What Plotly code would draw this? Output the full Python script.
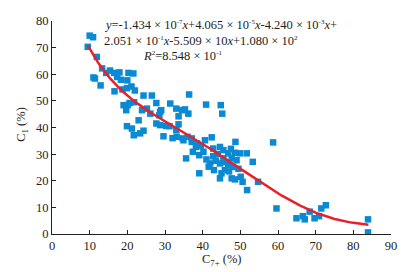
import numpy as np
import plotly.graph_objects as go

# scatter data: C7+ (%) vs C1 (%)
c7_plus = [10.0, 10.9, 9.5, 11.9, 11.0, 11.4, 12.9, 13.3, 14.4, 15.4, 16.5, 17.9, 20.3, 21.6,
           17.3, 18.3, 20.0, 21.1, 19.9, 22.0, 16.6, 18.7, 19.0, 20.1, 19.7, 20.6, 21.8, 24.3,
           26.5, 23.9, 25.2, 26.1, 27.7, 28.7, 29.0, 28.5, 27.7, 28.7, 30.3, 31.2, 31.4, 33.0,
           34.5, 35.3, 36.2, 33.6, 33.6, 33.0, 36.4, 40.9, 44.8, 45.2, 23.0, 19.9, 21.2, 24.3,
           23.4, 21.7, 29.6, 33.1, 34.7, 34.9, 37.1, 37.1, 38.2, 37.4, 35.6, 39.1, 40.2, 40.6,
           42.4, 42.8, 44.6, 48.7, 42.8, 42.0, 41.6, 44.6, 45.5, 46.8, 48.6, 49.9, 51.7, 47.7,
           49.0, 46.8, 48.1, 45.9, 45.0, 44.6, 47.7, 48.6, 50.1, 50.6, 39.1, 53.3, 51.8, 54.7,
           58.7, 59.6, 64.9, 66.6, 67.1, 68.4, 69.7, 70.9, 71.5, 72.7, 83.9, 83.9, 32.0, 36.0,
           43.5, 44.0, 46.0, 47.0, 49.5, 43.0, 45.5, 47.5, 41.0, 38.5, 39.5]
c1 = [74.5, 73.9, 70.3, 66.5, 58.8, 58.4, 55.8, 62.2, 60.5, 61.4, 60.5, 60.7, 60.5, 60.3,
      59.0, 57.9, 57.7, 55.4, 54.8, 53.9, 53.6, 54.3, 48.4, 48.4, 46.5, 49.2, 49.5, 52.0,
      52.0, 46.5, 47.1, 45.2, 49.2, 45.9, 46.5, 44.6, 41.5, 40.9, 40.6, 40.5, 49.0, 47.1,
      46.5, 46.8, 45.2, 44.2, 41.2, 39.0, 52.4, 48.6, 48.4, 45.2, 42.7, 40.5, 39.6, 38.8,
      37.8, 37.1, 36.7, 36.5, 35.9, 35.2, 34.6, 35.9, 32.7, 30.9, 28.4, 29.6, 30.9, 35.2,
      36.3, 32.1, 32.7, 34.6, 29.2, 26.5, 25.3, 26.5, 28.4, 30.3, 30.5, 30.3, 30.3, 28.4,
      27.7, 25.9, 25.2, 24.0, 22.8, 20.9, 20.9, 20.5, 21.5, 19.6, 22.8, 27.1, 16.5, 19.6,
      34.4, 9.6, 5.9, 6.7, 5.5, 8.4, 5.9, 6.7, 9.6, 10.8, 5.5, 0.6, 36.0, 36.5,
      27.5, 30.0, 27.0, 23.5, 24.5, 24.0, 31.5, 32.0, 28.0, 34.0, 33.0]

# fitted polynomial coefficients (highest power first), as printed on the chart
fit_coeffs = [-1.434e-7, 4.065e-5, -4.240e-3, 2.051e-1, -5.509, 1.080e2]
fit_range = [9.5, 84.0]

x_ticks = [0, 10, 20, 30, 40, 50, 60, 70, 80, 90]
y_ticks = [0, 10, 20, 30, 40, 50, 60, 70, 80]

fx = np.linspace(fit_range[0], fit_range[1], 200)
fy = np.polyval(fit_coeffs, fx)

SERIF = "Liberation Serif, Times New Roman, serif"
INK = "#231f20"
L, R, T, B = 51.5, 23.5, 20.7, 38
PW, PH = 415 - L - R, 272 - T - B

fig = go.Figure()
fig.add_trace(go.Scatter(x=c7_plus, y=c1, mode="markers",
                         marker=dict(symbol="square", size=6.5, color="#0a8ad2",
                                     line=dict(width=0)),
                         showlegend=False, hoverinfo="skip"))
fig.add_trace(go.Scatter(x=fx, y=fy, mode="lines",
                         line=dict(color="#e8202c", width=2.5),
                         showlegend=False, hoverinfo="skip"))

fig.update_layout(
    width=415, height=272,
    margin=dict(l=L, r=R, t=T, b=B, autoexpand=False),
    paper_bgcolor="white", plot_bgcolor="white",
    font=dict(family=SERIF, size=12, color=INK),
    xaxis=dict(range=[0, 90], tickvals=x_ticks, showgrid=False, zeroline=False,
               showline=True, linecolor=INK, linewidth=1, automargin=False,
               ticks="inside", ticklen=4, tickcolor=INK,
               tickfont=dict(family=SERIF, size=12.5, color=INK)),
    yaxis=dict(range=[0, 80], tickvals=y_ticks, showgrid=False, zeroline=False,
               showline=True, linecolor=INK, linewidth=1, automargin=False,
               ticks="inside", ticklen=4, tickcolor=INK,
               tickfont=dict(family=SERIF, size=12.5, color=INK)),
)


def xpix(px):
    return (px - L) / PW


def ypix(py):
    return 1 - (py - T) / PH


def sup(s):
    return "<sup><span style='font-size:7px'>" + s + "</span></sup>"


TIMES = " × "

# axis titles
title_font = dict(family=SERIF, size=12.5, color=INK)
fig.add_annotation(xref="paper", yref="paper", x=xpix(222), y=ypix(260),
                   xanchor="center", yanchor="middle", showarrow=False,
                   text="C<sub>7+</sub> (%)", font=title_font)
fig.add_annotation(xref="paper", yref="paper", x=xpix(22), y=ypix(124),
                   xanchor="center", yanchor="middle", showarrow=False, textangle=-90,
                   text="C<sub>1</sub> (%)", font=title_font)

ann_font = dict(family=SERIF, size=12.5, color=INK)
fig.add_annotation(xref="paper", yref="paper", x=xpix(103), y=ypix(32.5),
                   xanchor="left", yanchor="bottom", showarrow=False, align="left",
                   borderpad=0,
                   text="<i>y</i>=-1.434" + TIMES + "10" + sup("-7") + "<i>x</i>+4.065" + TIMES + "10"
                        + sup("-5") + "<i>x</i>-4.240" + TIMES + "10" + sup("-3") + "<i>x</i>+",
                   font=ann_font)
fig.add_annotation(xref="paper", yref="paper", x=xpix(103), y=ypix(33),
                   xanchor="left", yanchor="top", showarrow=False, align="left",
                   borderpad=0,
                   text="2.051" + TIMES + "10" + sup("-1") + "<i>x</i>-5.509" + TIMES
                        + "10<i>x</i>+1.080" + TIMES + "10" + sup("2"),
                   font=ann_font)
fig.add_annotation(xref="paper", yref="paper", x=xpix(142), y=ypix(56),
                   xanchor="left", yanchor="middle", showarrow=False, align="left",
                   borderpad=0,
                   text="<i>R</i>" + sup("2") + "=8.548" + TIMES + "10" + sup("-1"),
                   font=ann_font)

fig.write_html("out.html", config={"displayModeBar": False},
               post_script="document.body.style.margin='0';document.body.style.overflow='hidden';")
